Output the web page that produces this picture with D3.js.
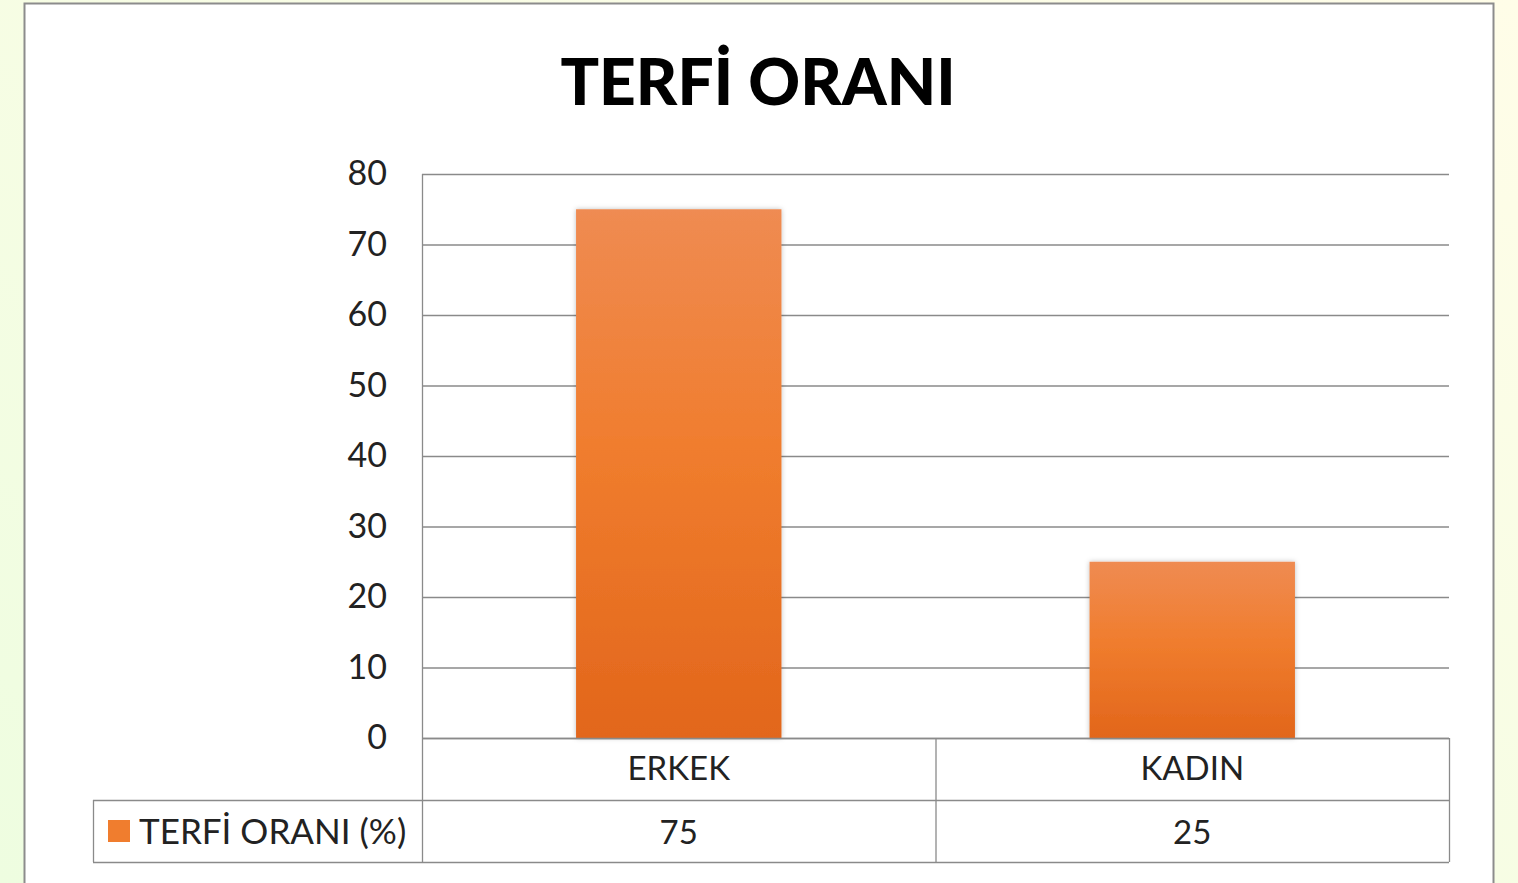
<!DOCTYPE html>
<html lang="tr">
<head>
<meta charset="UTF-8">
<title>TERFİ ORANI</title>
<script src="https://cdn.jsdelivr.net/npm/d3@7/dist/d3.min.js"></script>
<style>
html,body{margin:0;padding:0;overflow:hidden;}
body{width:1518px;height:883px;}
text{font-family:Lato,"Open Sans",sans-serif;fill:#222;}
</style>
</head>
<body>
<script>
// veriler
var categories = ["ERKEK", "KADIN"];
var values = [75, 25];
var seriesName = "TERFİ ORANI (%)";
var yTicks = [0, 10, 20, 30, 40, 50, 60, 70, 80];
var title = "TERFİ ORANI";

var width = 1518, height = 883;
var svg = d3.select("body").append("svg").attr("width", width).attr("height", height);
var defs = svg.append("defs");

// arka plan gradyanı
var bg = defs.append("linearGradient").attr("id", "bg")
	.attr("x1", "0").attr("y1", "1").attr("x2", "1").attr("y2", "0");
bg.append("stop").attr("offset", "0").attr("stop-color", "#eefde0");
bg.append("stop").attr("offset", "1").attr("stop-color", "#fffde8");
svg.append("rect").attr("width", width).attr("height", height).attr("fill", "url(#bg)");

// bar gradyanı
var bar = defs.append("linearGradient").attr("id", "barGrad")
	.attr("x1", "0").attr("y1", "0").attr("x2", "0").attr("y2", "1");
bar.append("stop").attr("offset", "0").attr("stop-color", "#ef8b52");
bar.append("stop").attr("offset", "0.45").attr("stop-color", "#f07d2e");
bar.append("stop").attr("offset", "1").attr("stop-color", "#e2661b");

var shadow = defs.append("filter").attr("id", "shadow").attr("x", "-10%").attr("y", "-10%").attr("width", "120%").attr("height", "120%");
shadow.append("feDropShadow").attr("dx", 0).attr("dy", 0).attr("stdDeviation", 2.5)
	.attr("flood-color", "#000").attr("flood-opacity", 0.25);

// grafik alanı
svg.append("rect").attr("x", 24.5).attr("y", 3.5).attr("width", 1469).attr("height", 900)
	.attr("fill", "#fff").attr("stroke", "#8c8c8c").attr("stroke-width", 2);

svg.append("text").attr("x", 758).attr("y", 105).attr("text-anchor", "middle")
	.style("font-size", "64px").style("font-weight", "900").style("fill", "#000")
	.text(title);

var pLeft = 422, pRight = 1449, pTop = 174, pBottom = 738;
var x = d3.scaleBand().domain(categories).range([pLeft, pRight]).paddingInner(0).paddingOuter(0);
var y = d3.scaleLinear().domain([0, 80]).range([pBottom, pTop]);

// yatay kılavuz çizgileri
svg.append("g").selectAll("line").data(yTicks).enter().append("line")
	.attr("x1", pLeft).attr("x2", pRight)
	.attr("y1", function(d){return y(d) + 0.5;}).attr("y2", function(d){return y(d) + 0.5;})
	.attr("stroke", "#8a8a8a").attr("stroke-width", 1.3);

// y ekseni etiketleri
var yAxis = d3.axisLeft(y).tickValues(yTicks).tickSize(0).tickPadding(35);
var gy = svg.append("g").attr("transform", "translate(" + pLeft + ",0)").call(yAxis);
gy.select(".domain").remove();
gy.selectAll("text").style("font-size", "34px").style("font-family", "Lato,sans-serif").attr("fill", "#222");

svg.append("line").attr("x1", pLeft + 0.5).attr("x2", pLeft + 0.5).attr("y1", pTop).attr("y2", 862)
	.attr("stroke", "#8a8a8a").attr("stroke-width", 1.3);

// çubuklar
var bw = x.bandwidth() * 0.4;
svg.append("g").selectAll("rect").data(values).enter().append("rect")
	.attr("x", function(d, i){return x(categories[i]) + (x.bandwidth() - bw) / 2;})
	.attr("y", function(d){return y(d);})
	.attr("width", bw)
	.attr("height", function(d){return y(0) - y(d);})
	.attr("fill", "url(#barGrad)").attr("filter", "url(#shadow)");

// veri tablosu
var rowH = 62;
var tbl = svg.append("g").attr("stroke", "#8a8a8a").attr("stroke-width", 1.3).attr("fill", "none");
tbl.append("line").attr("x1", pLeft).attr("x2", pRight).attr("y1", pBottom + 0.5).attr("y2", pBottom + 0.5);
tbl.append("line").attr("x1", 93).attr("x2", pRight).attr("y1", pBottom + rowH + 0.5).attr("y2", pBottom + rowH + 0.5);
tbl.append("line").attr("x1", 93).attr("x2", pRight).attr("y1", pBottom + 2 * rowH + 0.5).attr("y2", pBottom + 2 * rowH + 0.5);
tbl.append("line").attr("x1", 93.5).attr("x2", 93.5).attr("y1", pBottom + rowH).attr("y2", pBottom + 2 * rowH);
categories.forEach(function(c){
	tbl.append("line").attr("x1", x(c) + x.bandwidth() + 0.5).attr("x2", x(c) + x.bandwidth() + 0.5)
		.attr("y1", pBottom).attr("y2", pBottom + 2 * rowH);
});

svg.append("g").selectAll("text").data(categories).enter().append("text")
	.attr("x", function(d){return x(d) + x.bandwidth() / 2;})
	.attr("y", pBottom + 42).attr("text-anchor", "middle")
	.style("font-size", "33px").text(function(d){return d;});

svg.append("g").selectAll("text").data(values).enter().append("text")
	.attr("x", function(d, i){return x(categories[i]) + x.bandwidth() / 2;})
	.attr("y", pBottom + rowH + 44).attr("text-anchor", "middle")
	.style("font-size", "33px").text(function(d){return d;});

// gösterge
svg.append("rect").attr("x", 108).attr("y", 820).attr("width", 22).attr("height", 22).attr("fill", "#f07d2e");
svg.append("text").attr("x", 139).attr("y", 844).style("font-size", "35px").text(seriesName);
</script>
</body>
</html>
